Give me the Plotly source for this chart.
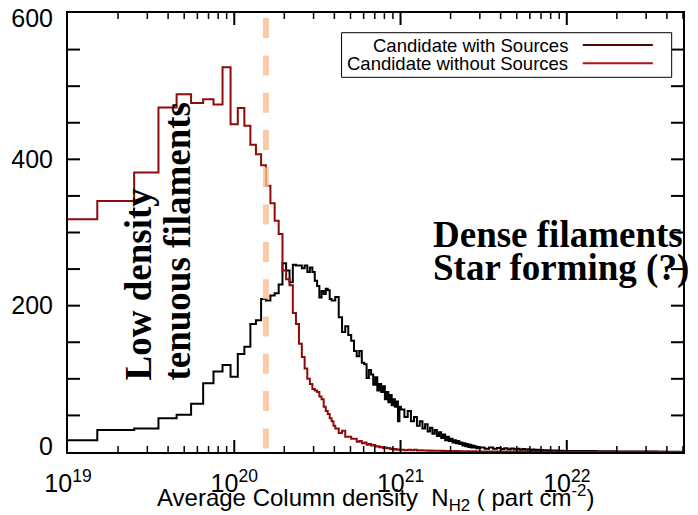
import math
import plotly.graph_objects as go

# ---------------- data ----------------
# Histogram bins: segments of constant linear width (column density, cm^-2)
seg_starts = [0.5e19, 4.05e20, 1.005e21, 3.005e21, 1.0005e22]
seg_widths = [1e19, 2e19, 5e19, 2e20, 5e21]

# Candidate with Sources (black)
with_A = [16, 30, 32, 46, 51, 66, 94, 110, 119, 103, 134, 144, 175, 180, 209, 207, 214, 217, 229, 258,
          248, 232, 256, 255, 255, 251, 255, 246, 252, 246, 234, 227, 211, 220, 216, 223, 221, 209, 207, 207]
with_B = [212, 184, 164, 172, 160, 152, 138, 131, 138, 122, 120, 101, 112, 106, 92, 102, 84, 93, 82, 90,
          72, 82, 68, 78, 64, 72, 62, 69, 42, 62]
with_C = [58, 48, 56, 42, 48, 36, 42, 32, 38, 28, 33, 25, 30, 22, 27, 19, 24, 16, 21, 15,
          18, 13, 16, 12, 15, 11, 13, 9, 12, 8, 11, 7, 10, 6, 9, 6, 8, 5, 7, 5]
with_D = [6, 4.5, 6, 4.5, 5.5, 4, 5, 3.8, 4.8, 3.6, 4.4, 3.2, 4, 3.2, 3.6, 2.8, 3.4, 2.6, 3, 2.4,
          2.8, 2.2, 2.4, 2, 2.3, 1.8, 2.1, 1.6, 2, 1.5, 1.8, 1.4, 1.6, 1.3, 1.5]
with_E = [1.2, 1.0, 0.8, 0.7, 0.6, 0.5, 0.5, 0.4]

# Candidate without Sources (dark red)
without_A = [318, 343, 382, 471, 489, 477, 482, 475, 526, 448, 470, 446, 420, 407, 392, 364, 340, 316, 298, 248,
             236, 228, 190, 175, 148, 130, 114, 100, 93, 86, 84, 82, 76, 72, 62, 56, 52, 46, 42, 36]
without_B = [32, 26, 29, 21, 21, 18, 18, 14, 15, 12, 13, 10, 11, 9, 9.5, 7.5, 8, 6.5, 7, 5.5,
             6, 5, 5.5, 4, 4.5, 3.5, 4, 3, 3.5, 3]
without_C = [3, 2.5, 3, 2.5, 3, 2.2, 2.4, 2, 2.2, 1.8, 2, 1.8, 1.8, 1.6, 1.7, 1.5, 1.6, 1.4, 1.5, 1.3,
             1.4, 1.2, 1.3, 1.1, 1.2, 1.1, 1.1, 1, 1.1, 1, 1, 0.9, 1, 0.9, 0.9, 0.9, 0.9, 0.8, 0.8, 0.8]
without_D = [0.8, 0.8, 0.8, 0.7, 0.8, 0.7, 0.7, 0.7, 0.6, 0.7, 0.6, 0.6, 0.6, 0.5, 0.6, 0.5, 0.5, 0.5, 0.5, 0.5,
             0.4, 0.5, 0.4, 0.4, 0.4, 0.4, 0.4, 0.3, 0.4, 0.3, 0.3, 0.3, 0.3, 0.3, 0.3]
without_E = [0.3, 0.3, 0.2, 0.2, 0.2, 0.2, 0.1, 0.1]

threshold = 1.55e20          # dashed separation line
x_range = [1e19, 5e22]
x_major_ticks = [1e19, 1e20, 1e21, 1e22]
x_major_labels = ["10<sup>19</sup>", "10<sup>20</sup>", "10<sup>21</sup>", "10<sup>22</sup>"]
x_minor_ticks = [m * d for d in (1e19, 1e20, 1e21, 1e22) for m in range(2, 10) if m * d <= 5e22]
y_range = [0, 600]
y_ticks = [50, 100, 150, 200, 250, 300, 350, 400, 450, 500, 550]
y_label_vals = [8, 200, 400, 592.5]          # labels as placed in the picture
y_label_text = ["0", "200", "400", "600"]

legend_labels = ["Candidate with Sources", "Candidate without Sources"]
x_title = "Average Column density  N<sub>H2</sub> ( part cm<sup>-2</sup>)"

# ---------------- geometry ----------------
W, H = 698, 515
M = dict(l=68, r=15, t=13, b=63)
plot_w = W - M["l"] - M["r"]
plot_h = H - M["t"] - M["b"]
log_range = [math.log10(x_range[0]), math.log10(x_range[1])]
dec_per_px = (log_range[1] - log_range[0]) / plot_w
y_per_px = (y_range[1] - y_range[0]) / plot_h


def steps(segments_counts):
    xs, ys = [], []
    edge = None
    for start, width, counts in zip(seg_starts, seg_widths, segments_counts):
        for i, c in enumerate(counts):
            xs.append(start + i * width)
            ys.append(c)
        edge = start + len(counts) * width
    xs.append(edge)
    ys.append(ys[-1])
    return xs, ys


xw, yw = steps([with_A, with_B, with_C, with_D, with_E])
xo, yo = steps([without_A, without_B, without_C, without_D, without_E])

BLACK = "#000000"
RED = "#8e0b0b"

fig = go.Figure()
fig.add_trace(go.Scatter(x=xw, y=yw, mode="lines", line=dict(color=BLACK, width=2, shape="hv"),
                         showlegend=False, hoverinfo="skip"))
fig.add_trace(go.Scatter(x=xo, y=yo, mode="lines", line=dict(color=RED, width=2, shape="hv"),
                         showlegend=False, hoverinfo="skip"))


# ---- inside tick marks on all four sides, drawn as line traces ----
def tick_trace(xs, ys, width):
    fig.add_trace(go.Scatter(x=xs, y=ys, mode="lines", line=dict(color="black", width=width),
                             connectgaps=False, showlegend=False, hoverinfo="skip"))


def x_ticks(vals, length_px, width):
    xs, ys = [], []
    dy = length_px * y_per_px
    for v in vals:
        xs += [v, v, None, v, v, None]
        ys += [y_range[0], y_range[0] + dy, None, y_range[1], y_range[1] - dy, None]
    tick_trace(xs, ys, width)


def y_ticks_draw(vals, length_px, width):
    xs, ys = [], []
    f = 10 ** (length_px * dec_per_px)
    for v in vals:
        xs += [x_range[0], x_range[0] * f, None, x_range[1], x_range[1] / f, None]
        ys += [v, v, None, v, v, None]
    tick_trace(xs, ys, width)


x_ticks(x_major_ticks[1:], 12, 2)
x_ticks(x_minor_ticks, 6, 1.5)
y_ticks_draw(y_ticks, 12, 2)

# dashed threshold line
fig.add_shape(type="line", xref="x", yref="y",
              x0=threshold, x1=threshold, y0=593, y1=0,
              line=dict(color="rgba(250,190,145,0.8)", width=6, dash="20px,17.3px"),
              layer="above")

ann_font_serif = dict(family="Liberation Serif, Times New Roman, serif", size=37, color="black")

annotations = [
    dict(text="<b>Dense filaments</b>", xref="paper", yref="paper", x=0.591, y=0.496,
         xanchor="left", yanchor="middle", showarrow=False, font=ann_font_serif),
    dict(text="<b>Star forming (?)</b>", xref="paper", yref="paper", x=0.591, y=0.420,
         xanchor="left", yanchor="middle", showarrow=False, font=ann_font_serif),
    dict(text="<b>Low density</b>", xref="paper", yref="paper", x=0.115, y=0.159,
         xanchor="center", yanchor="bottom", textangle=-90, showarrow=False, font=ann_font_serif),
    dict(text="<b>tenuous filaments</b>", xref="paper", yref="paper", x=0.1786, y=0.159,
         xanchor="center", yanchor="bottom", textangle=-90, showarrow=False, font=ann_font_serif),
    dict(text=x_title, xref="paper", yref="paper", x=0.5006, y=-0.104,
         xanchor="center", yanchor="middle", showarrow=False,
         font=dict(family="Liberation Sans, Arial, sans-serif", size=24, color="black")),
]

# manual legend
leg_font = dict(family="Liberation Sans, Arial, sans-serif", size=18.5, color="black")
leg_y = [0.927, 0.8854]
leg_colors = ["#4e0606", "#b01212"]
for lab, yy in zip(legend_labels, leg_y):
    annotations.append(dict(text=lab, xref="paper", yref="paper", x=0.816, y=yy,
                            xanchor="right", yanchor="middle", showarrow=False, font=leg_font))
fig.add_shape(type="rect", xref="paper", yref="paper", x0=0.4448, x1=0.9816, y0=0.8535, y1=0.9551,
              line=dict(color="black", width=1), fillcolor="white", layer="above")
for yy, col in zip(leg_y, leg_colors):
    fig.add_shape(type="line", xref="paper", yref="paper", x0=0.837, x1=0.951, y0=yy, y1=yy,
                  line=dict(color=col, width=2), layer="above")

tick_font = dict(family="Liberation Sans, Arial, sans-serif", size=25, color="black")

fig.update_layout(
    width=W, height=H,
    margin=dict(l=M["l"], r=M["r"], t=M["t"], b=M["b"], autoexpand=False),
    paper_bgcolor="white", plot_bgcolor="white",
    annotations=annotations,
    xaxis=dict(type="log", range=log_range, tickmode="array",
               tickvals=x_major_ticks, ticktext=x_major_labels, ticks="",
               ticklabelstandoff=8,
               showline=True, linecolor="black", linewidth=2, mirror=True,
               showgrid=False, zeroline=False, tickfont=tick_font, automargin=False,
               ticklabeloverflow="allow"),
    yaxis=dict(range=y_range, tickmode="array", tickvals=y_label_vals, ticktext=y_label_text,
               ticks="", ticklabelstandoff=8,
               showline=True, linecolor="black", linewidth=2, mirror=True,
               showgrid=False, zeroline=False, tickfont=tick_font, automargin=False,
               ticklabeloverflow="allow"),
)

fig.write_html("out.html")
